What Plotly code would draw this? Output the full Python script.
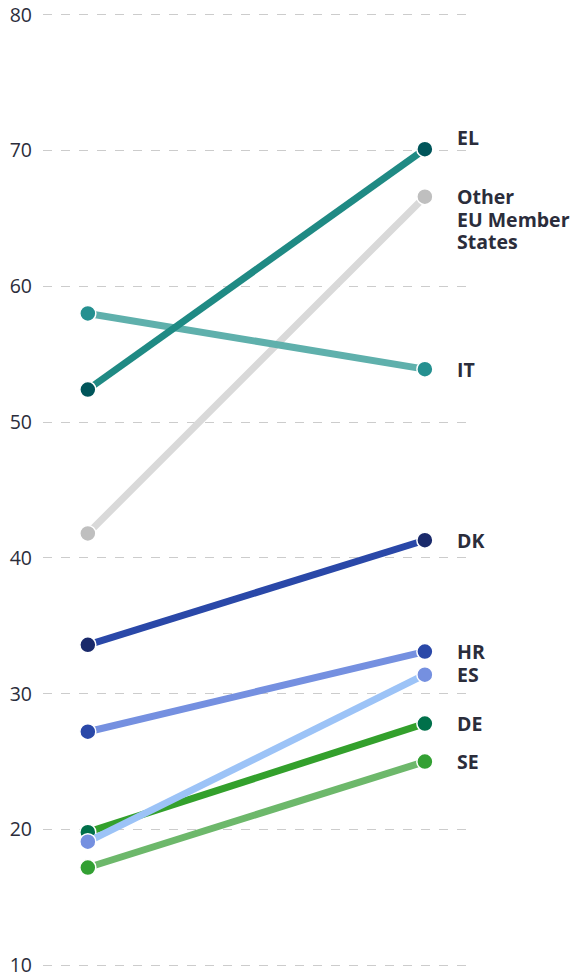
import plotly.graph_objects as go

periods = [0, 1]
series_names = ["Other\nEU Member\nStates", "SE", "DE", "ES", "HR", "DK", "IT", "EL"]
values_start = [41.8, 17.2, 19.8, 19.1, 27.2, 33.6, 58.0, 52.4]
values_end = [66.6, 25.0, 27.8, 31.4, 33.1, 41.3, 53.9, 70.1]
line_colors = ["#d9d9d9", "#6db86b", "#33a02c", "#9cc3f7", "#7590e0", "#2a48a8", "#5fb0ac", "#1f8a84"]
marker_colors = ["#bfbfbf", "#33a033", "#00704a", "#7590e0", "#2a48a8", "#1a2a6b", "#259090", "#00555a"]
y_ticks = [10, 20, 30, 40, 50, 60, 70, 80]

# label vertical nudges (pixels)
label_nudge = {"EL": 12}

fig = go.Figure()
for name, v0, v1, lc, mc in zip(series_names, values_start, values_end, line_colors, marker_colors):
    fig.add_trace(go.Scatter(
        x=periods, y=[v0, v1], mode="lines+markers",
        line=dict(color=lc, width=7),
        marker=dict(color=mc, size=16, line=dict(color="white", width=1.5)),
        hoverinfo="skip", showlegend=False,
    ))
    lines = name.split("\n")
    for i, ln in enumerate(lines):
        fig.add_annotation(
            x=periods[1], y=v1, xref="x", yref="y",
            text=ln, showarrow=False,
            xanchor="left", yanchor="middle",
            yshift=label_nudge.get(name, 0) - 22.5 * i, xshift=30, align="left",
            font=dict(family="Open Sans", size=19.5, color="#2b2d3b", weight="bold"),
        )

fig.update_layout(
    width=574, height=976,
    margin=dict(l=43, r=107, t=12.3, b=8.3, autoexpand=False),
    plot_bgcolor="white", paper_bgcolor="white",
    font=dict(family="Open Sans", size=17, color="#2b2d3b"),
    xaxis=dict(range=[-0.133, 1.125], visible=False, showgrid=False, zeroline=False,
               automargin=False),
    yaxis=dict(range=[9.8, 80.2], tickvals=y_ticks, showgrid=True, gridcolor="#cccccc",
               griddash="dash", gridwidth=1, zeroline=False, showline=False,
               automargin=False, ticklabeloverflow="allow",
               ticklabelstandoff=10, tickfont=dict(size=19.5, color="#2b2d3b")),
)
fig.write_html("out.html", config={"displayModeBar": False},
               post_script="document.body.style.margin='0';")
